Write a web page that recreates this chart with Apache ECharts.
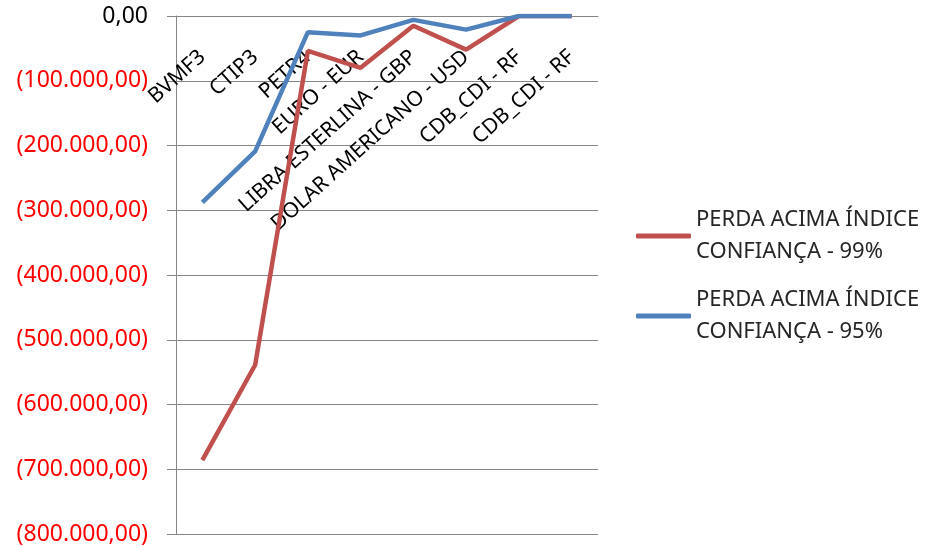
<!DOCTYPE html>
<html>
<head>
<meta charset="utf-8">
<script src="https://cdn.jsdelivr.net/npm/echarts@6/dist/echarts.min.js"></script>
<style>
  html, body { margin: 0; padding: 0; background: #fff; }
  #main { width: 929px; height: 546px; }
</style>
</head>
<body>
<div id="main"></div>
<script>
var categories = ['BVMF3', 'CTIP3', 'PETR4', 'EURO - EUR', 'LIBRA ESTERLINA - GBP',
                  'DOLAR AMERICANO - USD', 'CDB_CDI - RF', 'CDB_CDI - RF'];
var perda99 = [-686000, -539000, -54000, -80000, -15000, -52000, 0, 0];
var perda95 = [-288000, -209000, -25000, -30000, -6000, -21000, 0, 0];
var seriesNames = ['PERDA ACIMA ÍNDICE\nCONFIANÇA - 99%', 'PERDA ACIMA ÍNDICE\nCONFIANÇA - 95%'];

function fmt(v) {
    if (v == 0) return '{z|0,00}';
    var s = Math.abs(v).toString().replace(/\B(?=(\d{3})+(?!\d))/g, '.');
    return '{n|(' + s + ',00)}';
}

var myChart = echarts.init(document.getElementById('main'));

var option = {
    animation: false,
    textStyle: { fontFamily: 'Noto Sans' },
    grid: { left: 176, top: 16, right: 331, bottom: 12 },
    legend: {
        orient: 'vertical',
        left: 631,
        top: 199,
        icon: 'roundRect',
        itemWidth: 55,
        itemHeight: 5,
        itemGap: 16,
        textStyle: { fontSize: 22, color: '#262626', lineHeight: 32 },
        data: seriesNames
    },
    xAxis: {
        type: 'category',
        position: 'top',
        data: categories,
        axisLine: { show: true, lineStyle: { color: '#868686' } },
        axisTick: { show: false },
        axisLabel: {
            inside: true,
            rotate: 42,
            interval: 0,
            fontSize: 21,
            color: '#000',
            margin: 38
        }
    },
    yAxis: {
        type: 'value',
        min: -800000,
        max: 0,
        interval: 100000,
        axisLine: { show: true, lineStyle: { color: '#868686' } },
        axisTick: { show: true, length: 9, lineStyle: { color: '#868686' } },
        splitLine: { lineStyle: { color: '#868686' } },
        axisLabel: {
            margin: 28,
            formatter: fmt,
            rich: {
                z: { fontSize: 23, color: '#000', fontFamily: 'Noto Sans' },
                n: { fontSize: 23, color: '#ff0000', fontFamily: 'Noto Sans' }
            }
        }
    },
    series: [
        {
            name: seriesNames[0],
            type: 'line',
            data: perda99,
            symbol: 'none',
            lineStyle: { color: '#C0504D', width: 4.5 },
            itemStyle: { color: '#C0504D' }
        },
        {
            name: seriesNames[1],
            type: 'line',
            data: perda95,
            symbol: 'none',
            lineStyle: { color: '#4F81BD', width: 4.5 },
            itemStyle: { color: '#4F81BD' }
        }
    ]
};

myChart.setOption(option);
</script>
</body>
</html>
